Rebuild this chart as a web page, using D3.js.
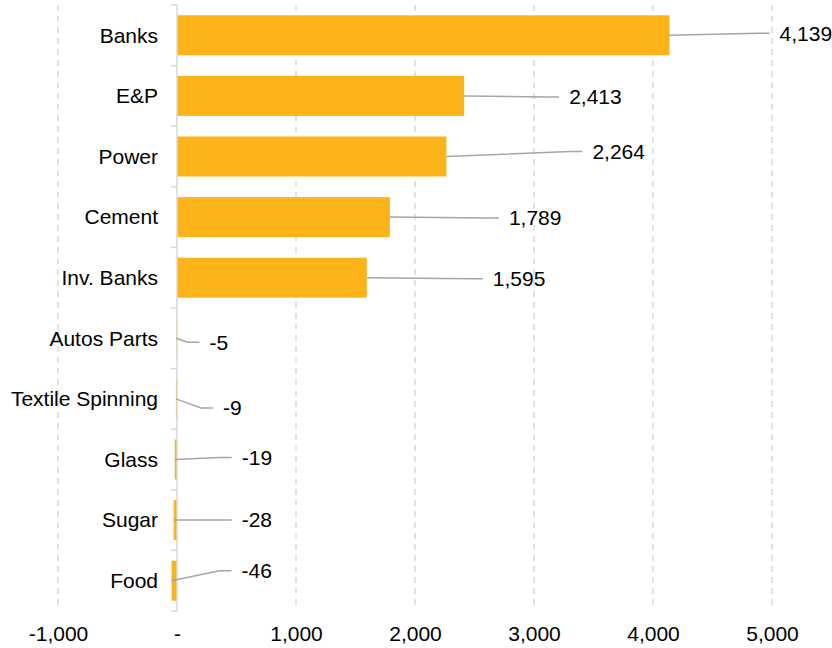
<!DOCTYPE html>
<html>
<head>
<meta charset="utf-8">
<script src="https://cdn.jsdelivr.net/npm/d3@7"></script>
<style>
  body { margin: 0; background: #fff; }
  text { font-family: "Liberation Sans", Arial, sans-serif; fill: #000; }
</style>
</head>
<body>
<div id="chart"></div>
<script>
// data
const categories = ["Banks", "E&P", "Power", "Cement", "Inv. Banks", "Autos Parts",
    "Textile Spinning", "Glass", "Sugar", "Food"];
const values = [4139, 2413, 2264, 1789, 1595, -5, -9, -19, -28, -46];
const xTicks = [-1000, 0, 1000, 2000, 3000, 4000, 5000];

// label placement (pixel nudges from bar end), kept apart from the data
const labelNudge = [[110, -2], [105, 1], [146, -5], [119, 1], [126, 1],
    [33, 4], [47, 9], [67, -2], [68, 0], [70, -10]];

const width = 832, height = 648;
const fontSize = 21;

const svg = d3.select("#chart").append("svg")
    .attr("width", width)
    .attr("height", height);

const x = d3.scaleLinear()
    .domain([-1000, 5000])
    .range([58, 772]);

const y = d3.scaleBand()
    .domain(categories)
    .range([5, 611])
    .paddingInner(0.34)
    .paddingOuter(0.17);

// excel-style number format with a plain hyphen
const fmt = d => d3.format(",")(d).replace("\u2212", "-");

// dashed gridlines
svg.append("g")
    .selectAll("line")
    .data(xTicks.filter(d => d !== 0))
    .enter().append("line")
    .attr("x1", d => x(d))
    .attr("x2", d => x(d))
    .attr("y1", 5)
    .attr("y2", 608)
    .attr("stroke", "#d9d9d9")
    .attr("stroke-width", 1.5)
    .attr("stroke-dasharray", "6,5");

// x axis labels (no line)
const xAxis = svg.append("g")
    .attr("transform", "translate(0,620)")
    .call(d3.axisBottom(x).tickValues(xTicks).tickSize(0).tickPadding(6)
        .tickFormat(d => d === 0 ? "-" : fmt(d)));
xAxis.select(".domain").remove();
xAxis.selectAll("text")
    .style("font-size", fontSize + "px")
    .style("font-family", "'Liberation Sans', Arial, sans-serif");

// bars
svg.append("g")
    .selectAll("rect")
    .data(values)
    .enter().append("rect")
    .attr("x", d => x(Math.min(0, d)))
    .attr("width", d => Math.abs(x(d) - x(0)))
    .attr("y", (d, i) => y(categories[i]))
    .attr("height", y.bandwidth())
    .attr("fill", "#fdb41a");

// category axis
const step = y.step();
const yAxis = svg.append("g")
    .attr("transform", "translate(" + x(0) + ",0)");
yAxis.append("line")
    .attr("x1", 0).attr("x2", 0)
    .attr("y1", 5).attr("y2", 611)
    .attr("stroke", "#d9d9d9")
    .attr("stroke-width", 1.5);
yAxis.selectAll(".tk")
    .data(d3.range(categories.length + 1))
    .enter().append("line")
    .attr("class", "tk")
    .attr("x1", -6).attr("x2", 0)
    .attr("y1", i => 5 + i * step)
    .attr("y2", i => 5 + i * step)
    .attr("stroke", "#d9d9d9")
    .attr("stroke-width", 1.5);
yAxis.selectAll("text")
    .data(categories)
    .enter().append("text")
    .attr("x", -19)
    .attr("y", d => y(d) + y.bandwidth() / 2)
    .attr("dy", "0.35em")
    .attr("text-anchor", "end")
    .style("font-size", fontSize + "px")
    .text(d => d);

// leader lines and value labels
const labels = svg.append("g");
values.forEach((v, i) => {
    const bx = x(v);
    const by = y(categories[i]) + y.bandwidth() / 2;
    const lx = bx + labelNudge[i][0];
    const ly = by + labelNudge[i][1];
    labels.append("polyline")
        .attr("points", [[bx, by], [lx - 22, ly], [lx - 10, ly]].map(p => p.join(",")).join(" "))
        .attr("fill", "none")
        .attr("stroke", "#a6a6a6")
        .attr("stroke-width", 1.5);
    labels.append("text")
        .attr("x", lx)
        .attr("y", ly)
        .attr("dy", "0.35em")
        .style("font-size", fontSize + "px")
        .text(fmt(v));
});
</script>
</body>
</html>
